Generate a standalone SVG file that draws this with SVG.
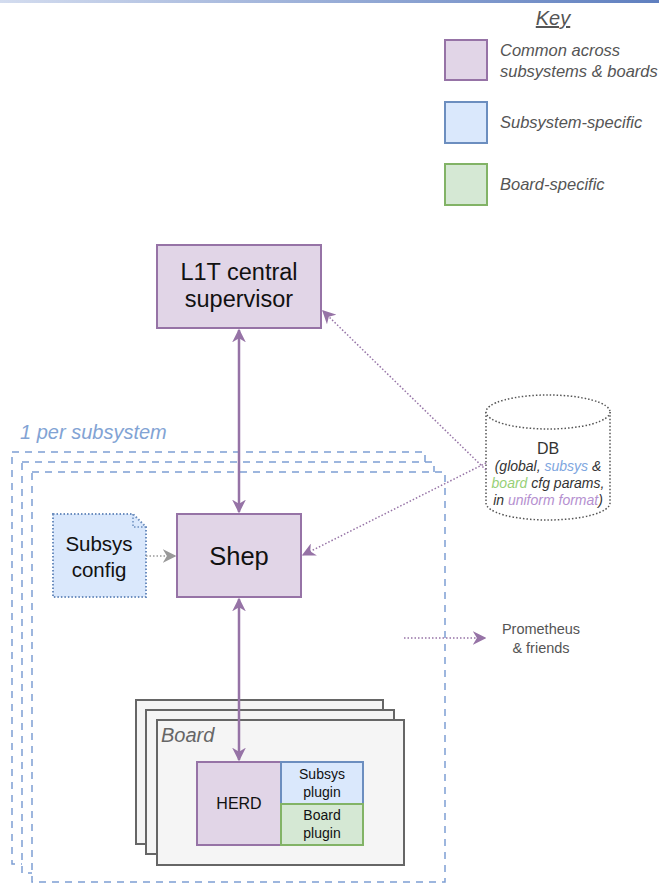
<svg xmlns="http://www.w3.org/2000/svg" width="659" height="883" viewBox="0 0 659 883">
<defs>
<linearGradient id="bar" x1="0" y1="0" x2="1" y2="0"><stop offset="0" stop-color="#d3dcef"/><stop offset="1" stop-color="#5f7fbf"/></linearGradient>
<marker id="ap" viewBox="0 0 10 10" refX="9" refY="5" markerWidth="5.5" markerHeight="5.5" orient="auto-start-reverse" markerUnits="strokeWidth"><path d="M0,0 L10,5 L0,10 L3,5 z" fill="#9673a6"/></marker>
<marker id="apd" viewBox="0 0 10 10" refX="9" refY="5" markerWidth="9" markerHeight="9" orient="auto" markerUnits="strokeWidth"><path d="M0,0 L10,5 L0,10 L3,5 z" fill="#9673a6"/></marker>
<marker id="agd" viewBox="0 0 10 10" refX="9" refY="5" markerWidth="9" markerHeight="9" orient="auto" markerUnits="strokeWidth"><path d="M0,0 L10,5 L0,10 L3,5 z" fill="#999"/></marker>
</defs>
<style>
text{font-family:"Liberation Sans",Arial,sans-serif}
.pu{fill:#e1d5e7;stroke:#9673a6;stroke-width:2}
.bl{fill:#dae8fc;stroke:#6c8ebf;stroke-width:2}
.gr{fill:#d5e8d4;stroke:#82b366;stroke-width:2}
.key{font-style:italic;font-size:16.5px;fill:#555}
.dash{fill:#fff;stroke:#7e9fd4;stroke-width:1.5;stroke-dasharray:7 6}
.brd{fill:#f5f5f5;stroke:#666;stroke-width:2}
.lbl{fill:#111;text-anchor:middle}
</style>
<rect x="0" y="0" width="659" height="3" fill="url(#bar)"/>
<g id="key">
<text x="553" y="25" text-anchor="middle" font-size="20" font-style="italic" fill="#555" text-decoration="underline">Key</text>
<rect class="pu" x="445" y="40" width="42" height="40"/>
<text class="key" x="500" y="56">Common across</text>
<text class="key" x="500" y="77">subsystems &amp; boards</text>
<rect class="bl" x="445" y="102" width="42" height="41"/>
<text class="key" x="500" y="128">Subsystem-specific</text>
<rect class="gr" x="445" y="164" width="42" height="41"/>
<text class="key" x="500" y="190">Board-specific</text>
</g>
<g id="subsystem-frames">
<text x="20" y="439" font-size="20" font-style="italic" fill="#82a3d4">1 per subsystem</text>
<rect class="dash" x="12" y="452" width="413" height="412"/>
<rect class="dash" x="22" y="462" width="412" height="411"/>
<rect class="dash" x="32" y="472" width="413" height="410"/>
</g>
<g id="l1t">
<rect class="pu" x="157" y="245" width="164" height="83"/>
<text class="lbl" x="239" y="280" font-size="23.5">L1T central</text>
<text class="lbl" x="239" y="307" font-size="23.5">supervisor</text>
</g>
<g id="db">
<path d="M486,412 L486,503 A62,17 0 0 0 610,503 L610,412" fill="#fff" stroke="#555" stroke-width="1.5" stroke-dasharray="1.5 2"/>
<ellipse cx="548" cy="412" rx="62" ry="17" fill="#fff" stroke="#555" stroke-width="1.5" stroke-dasharray="1.5 2"/>
<text x="548" y="454" font-size="16" text-anchor="middle" fill="#333">DB</text>
<text x="548" y="471" font-size="14" font-style="italic" text-anchor="middle" fill="#333">(global, <tspan fill="#7ea6e0">subsys</tspan> &amp;</text>
<text x="548" y="488" font-size="14" font-style="italic" text-anchor="middle" fill="#333"><tspan fill="#97d077">board</tspan> cfg params,</text>
<text x="548" y="505" font-size="14" font-style="italic" text-anchor="middle" fill="#333">in <tspan fill="#b590d0">uniform format</tspan>)</text>
</g>
<g id="subsys-config">
<path d="M53,514 L133,514 L146,527 L146,597 L53,597 Z" fill="#dae8fc" stroke="#6c8ebf" stroke-width="2" stroke-dasharray="1.5 2"/>
<path d="M133,514 L133,527 L146,527" fill="none" stroke="#6c8ebf" stroke-width="1.5" stroke-dasharray="1.5 2"/>
<text class="lbl" x="99" y="551" font-size="20.5">Subsys</text>
<text class="lbl" x="99" y="577" font-size="20.5">config</text>
</g>
<g id="shep">
<rect class="pu" x="177" y="514" width="124" height="83"/>
<text class="lbl" x="239" y="565" font-size="25.5">Shep</text>
</g>
<g id="boards">
<rect class="brd" x="136" y="700" width="247" height="144"/>
<rect class="brd" x="146" y="710" width="248" height="144"/>
<rect class="brd" x="157" y="720" width="247" height="145"/>
<text x="161" y="742" font-size="20" font-style="italic" fill="#666">Board</text>
</g>
<g id="herd">
<rect class="pu" x="197" y="762" width="84" height="83"/>
<text class="lbl" x="239" y="809" font-size="16">HERD</text>
</g>
<g id="subsys-plugin">
<rect class="bl" x="281" y="762" width="82" height="42"/>
<text class="lbl" x="322" y="779" font-size="14">Subsys</text>
<text class="lbl" x="322" y="797" font-size="14">plugin</text>
</g>
<g id="board-plugin">
<rect class="gr" x="281" y="804" width="82" height="41"/>
<text class="lbl" x="322" y="820" font-size="14">Board</text>
<text class="lbl" x="322" y="838" font-size="14">plugin</text>
</g>
<g id="prometheus">
<text x="541" y="634" font-size="14.5" text-anchor="middle" fill="#555">Prometheus</text>
<text x="541" y="653" font-size="14.5" text-anchor="middle" fill="#555">&amp; friends</text>
</g>
<g id="connectors" fill="none">
<line x1="239" y1="330" x2="239" y2="512" stroke="#9673a6" stroke-width="2.5" marker-start="url(#ap)" marker-end="url(#ap)"/>
<line x1="239" y1="599" x2="239" y2="760" stroke="#9673a6" stroke-width="2.5" marker-start="url(#ap)" marker-end="url(#ap)"/>
<line x1="486" y1="470" x2="323" y2="311" stroke="#9673a6" stroke-width="1.5" stroke-dasharray="1.5 2" marker-end="url(#apd)"/>
<line x1="486" y1="463" x2="303" y2="555" stroke="#9673a6" stroke-width="1.5" stroke-dasharray="1.5 2" marker-end="url(#apd)"/>
<line x1="146" y1="556" x2="175" y2="556" stroke="#999" stroke-width="1.5" stroke-dasharray="1.5 2" marker-end="url(#agd)"/>
<line x1="404" y1="638" x2="485" y2="638" stroke="#9673a6" stroke-width="1.5" stroke-dasharray="1.5 2" marker-end="url(#apd)"/>
</g>
</svg>
